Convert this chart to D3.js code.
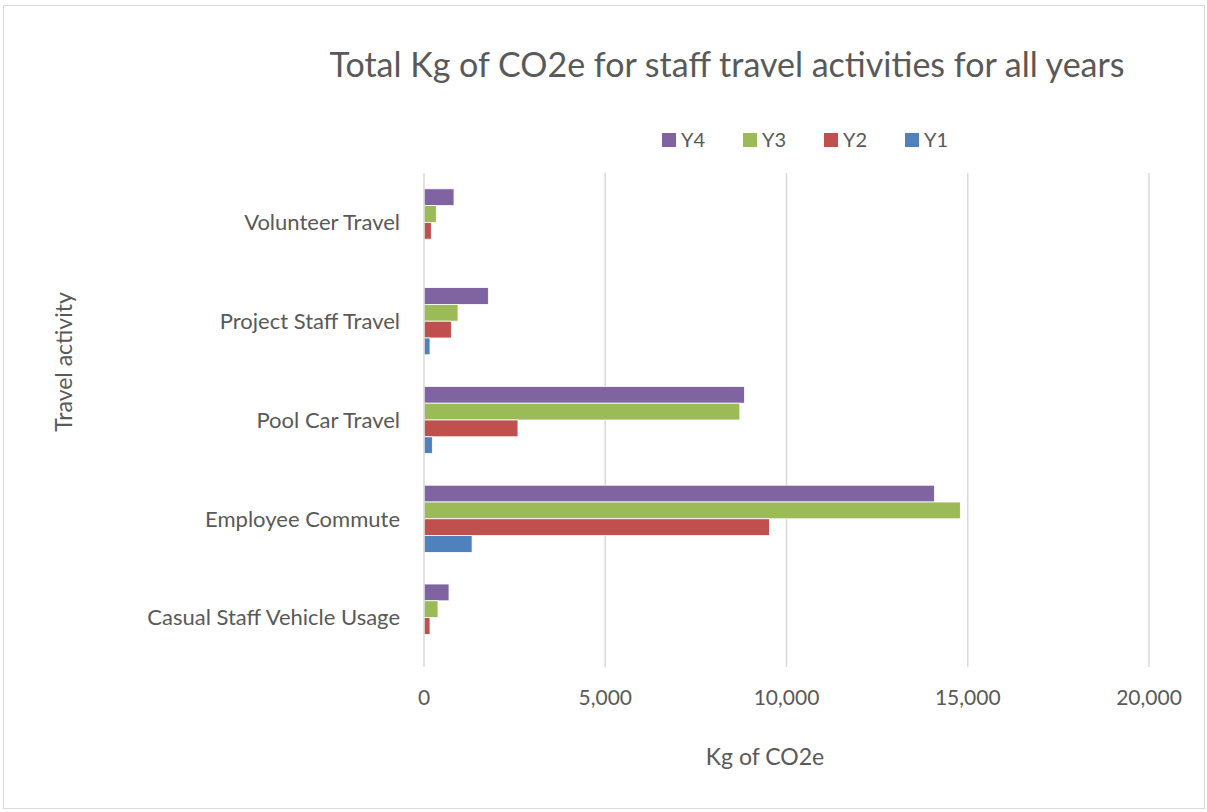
<!DOCTYPE html>
<html>
<head>
<meta charset="utf-8">
<script src="https://cdn.jsdelivr.net/npm/d3@7"></script>
<style>
  body { margin: 0; background: #fff; }
  text { font-family: Lato, "Open Sans", sans-serif; fill: #595959; }
</style>
</head>
<body>
<script>
// chart data
var categories = ["Volunteer Travel", "Project Staff Travel", "Pool Car Travel", "Employee Commute", "Casual Staff Vehicle Usage"];
var seriesNames = ["Y4", "Y3", "Y2", "Y1"];
var y4 = [828, 1775, 8842, 14082, 690];
var y3 = [340, 938, 8713, 14796, 386];
var y2 = [202, 754, 2592, 9531, 166];
var y1 = [0, 166, 230, 1327, 20];
var xTicks = [0, 5000, 10000, 15000, 20000];

var colors = {Y4: "#8064A2", Y3: "#9BBB59", Y2: "#C0504D", Y1: "#4F81BD"};
var seriesValues = {Y4: y4, Y3: y3, Y2: y2, Y1: y1};

var width = 1207, height = 812;
var plotLeft = 424, plotRight = 1149, plotTop = 173, plotBottom = 667;

var svg = d3.select("body").append("svg")
    .attr("width", width)
    .attr("height", height);

// chart border
svg.append("rect")
    .attr("x", 3.5).attr("y", 5.5)
    .attr("width", width - 6).attr("height", height - 9)
    .attr("fill", "#fff")
    .attr("stroke", "#d9d9d9");

var x = d3.scaleLinear().domain([0, 20000]).range([plotLeft, plotRight]);
var y = d3.scaleBand().domain(categories).range([plotTop, plotBottom]).paddingInner(0.32).paddingOuter(0.16);
var ySub = d3.scaleBand().domain(seriesNames).range([0, y.bandwidth()]);

// gridlines
svg.append("g").selectAll("line")
    .data(xTicks.slice(1))
    .enter().append("line")
    .attr("x1", function (d) { return x(d); })
    .attr("x2", function (d) { return x(d); })
    .attr("y1", plotTop).attr("y2", plotBottom)
    .attr("stroke", "#d9d9d9")
    .attr("stroke-width", 1.5);

// bars
var groups = svg.append("g").selectAll("g")
    .data(categories)
    .enter().append("g")
    .attr("transform", function (d) { return "translate(0," + y(d) + ")"; });

groups.selectAll("rect")
    .data(function (d, i) {
        return seriesNames.map(function (s) { return {series: s, value: seriesValues[s][i]}; });
    })
    .enter().append("rect")
    .attr("x", x(0))
    .attr("y", function (d) { return ySub(d.series); })
    .attr("width", function (d) { return x(d.value) - x(0); })
    .attr("height", ySub.bandwidth())
    .attr("fill", function (d) { return colors[d.series]; })
    .attr("stroke", "#fff")
    .attr("stroke-width", 0.8);

// vertical axis line
svg.append("line")
    .attr("x1", x(0)).attr("x2", x(0))
    .attr("y1", plotTop).attr("y2", plotBottom)
    .attr("stroke", "#d9d9d9")
    .attr("stroke-width", 1.5);

// category labels
svg.append("g").selectAll("text")
    .data(categories)
    .enter().append("text")
    .attr("x", 400)
    .attr("y", function (d) { return y(d) + y.bandwidth() / 2; })
    .attr("dy", "0.35em")
    .attr("text-anchor", "end")
    .attr("font-size", 22)
    .text(function (d) { return d; });

// x tick labels
svg.append("g").selectAll("text")
    .data(xTicks)
    .enter().append("text")
    .attr("x", function (d) { return x(d); })
    .attr("y", 698)
    .attr("dy", "0.35em")
    .attr("text-anchor", "middle")
    .attr("font-size", 21)
    .text(d3.format(","));

// titles
svg.append("text")
    .attr("x", 727).attr("y", 65)
    .attr("dy", "0.35em")
    .attr("text-anchor", "middle")
    .attr("font-size", 34)
    .text("Total Kg of CO2e for staff travel activities for all years");

svg.append("text")
    .attr("x", 765).attr("y", 757)
    .attr("dy", "0.35em")
    .attr("text-anchor", "middle")
    .attr("font-size", 23)
    .text("Kg of CO2e");

svg.append("text")
    .attr("transform", "translate(64,362) rotate(-90)")
    .attr("dy", "0.35em")
    .attr("text-anchor", "middle")
    .attr("font-size", 23)
    .text("Travel activity");

// legend
var legendX = [662, 743, 824, 905];
var legend = svg.append("g").selectAll("g")
    .data(seriesNames)
    .enter().append("g")
    .attr("transform", function (d, i) { return "translate(" + legendX[i] + ",140)"; });

legend.append("rect")
    .attr("x", 0).attr("y", -7)
    .attr("width", 14).attr("height", 14)
    .attr("fill", function (d) { return colors[d]; });

legend.append("text")
    .attr("x", 19)
    .attr("dy", "0.35em")
    .attr("font-size", 20)
    .text(function (d) { return d; });
</script>
</body>
</html>
